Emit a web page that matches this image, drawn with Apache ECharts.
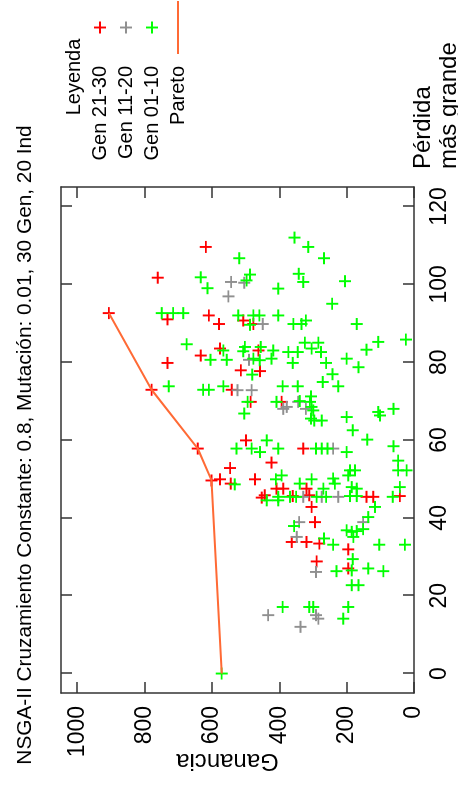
<!DOCTYPE html>
<html><head><meta charset="utf-8">
<script src="https://cdn.jsdelivr.net/npm/echarts@6/dist/echarts.min.js"></script>
<style>
html,body{margin:0;padding:0;width:458px;height:786px;overflow:hidden;background:#fff}
#chart{position:absolute;left:0;top:786px;width:786px;height:458px;transform-origin:0 0;transform:rotate(-90deg);background:#fff}
</style></head><body><div id="chart"></div>
<script>
const titleText = 'NSGA-II Cruzamiento Constante: 0.8, Mutación: 0.01, 30 Gen, 20 Ind';
const xName = 'Pérdida\nmás grande';
const yName = 'Ganancia';
const legendTitle = 'Leyenda';
const seriesNames = ['Gen 21-30', 'Gen 11-20', 'Gen 01-10', 'Pareto'];
const xTicks = [0, 20, 40, 60, 80, 100, 120];
const yTicks = [0, 200, 400, 600, 800, 1000];

// [Pérdida más grande, Ganancia]
const gen2130 = [
  [109.6,618],[101.7,761],[92.6,906],[91.0,732],[92.0,609],[89.8,579],[90.7,507],[89.8,477],
  [83.5,576],[81.7,633],[79.8,732],[77.9,514],[72.9,779],[72.9,541],[69.8,485],[59.9,499],
  [57.8,642],[83.0,462],[77.7,457],[69.8,393],[57.8,329],[54.2,423],[52.8,546],[49.6,601],
  [49.9,576],[48.8,544],[49.9,472],[47.5,408],[47.5,388],[47.5,319],[45.8,443],[45.2,452],
  [45.6,360],[45.8,311],[45.6,42],[45.4,141],[45.4,121],[42.8,304],[38.9,294],[33.8,363],
  [33.8,319],[33.4,281],[31.9,195],[28.8,289],[27.0,195]
];
const gen1120 = [
  [100.6,543],[100.4,504],[96.9,551],[89.8,449],[80.6,490],[72.8,524],[72.8,482],[68.0,388],
  [68.5,378],[69.8,344],[68.0,321],[57.8,240],[45.4,329],[45.4,274],[45.4,225],[38.9,151],
  [38.9,341],[35.1,348],[26.1,291],[15.0,433],[15.0,291],[14.1,284],[12.0,337]
];
const gen0110 = [
  [106.7,519],[101.8,633],[99.0,613],[102.5,487],[101.0,497],[92.6,749],[92.6,715],[92.6,685],
  [92.0,522],[84.6,675],[112.0,355],[109.6,314],[106.7,267],[102.7,342],[100.6,329],[98.9,403],
  [100.8,205],[95.0,243],[92.0,477],[92.0,459],[92.0,403],[89.8,358],[89.8,334],[90.7,321],
  [89.8,170],[85.0,324],[85.0,284],[85.2,106],[85.8,24],[83.2,141],[83.9,455],[89.6,487],
  [83.0,566],[83.9,502],[82.8,507],[80.6,604],[80.6,556],[76.8,480],[73.8,728],[72.9,626],
  [72.9,609],[73.8,566],[69.8,494],[66.8,504],[57.8,527],[57.8,482],[83.0,418],[82.6,373],
  [82.6,345],[83.5,304],[82.6,276],[80.9,477],[80.5,458],[80.9,423],[79.8,360],[79.8,261],
  [80.9,200],[78.7,165],[76.9,242],[74.9,271],[73.8,225],[73.8,390],[73.8,345],[69.8,408],
  [70.0,339],[71.2,306],[69.8,309],[68.5,304],[67.6,299],[65.5,306],[65.0,274],[65.0,296],
  [65.9,200],[62.5,182],[67.2,106],[66.3,101],[68.0,61],[60.1,139],[58.4,61],[54.7,47],
  [59.9,437],[56.9,457],[57.8,403],[57.8,291],[57.8,274],[57.8,257],[56.9,200],[48.6,532],
  [49.9,410],[50.9,393],[49.9,304],[48.8,339],[50.1,240],[48.8,235],[52.2,190],[52.2,175],
  [50.9,195],[47.9,185],[47.5,170],[52.2,47],[52.2,22],[47.9,42],[45.4,63],[47.5,269],
  [44.5,437],[44.5,403],[45.4,403],[45.4,368],[45.4,350],[45.4,289],[45.4,261],[45.6,190],
  [45.6,170],[42.8,116],[40.2,136],[37.9,356],[36.8,200],[36.4,185],[36.6,170],[37.1,151],
  [35.1,180],[34.7,267],[33.1,240],[33.1,103],[33.1,27],[29.4,182],[26.3,230],[26.5,185],
  [27.0,136],[26.3,91],[22.7,185],[22.7,165],[17.1,390],[17.1,311],[17.1,299],[17.1,195],
  [14.1,210],[0,571]
];
const pareto = [[0,571],[49.6,601],[57.8,642],[72.9,779],[92.6,906]];

const FONT = "'Liberation Sans', Arial, sans-serif";
const PLUS = 'path://M0,9.25H9.25V0H12.75V9.25H22V12.75H12.75V22H9.25V12.75H0Z';
const AX = '#333333';
const LINE_COLOR = '#ff6a35';

function scatter(name, data, color) {
  return {
    name, type: 'scatter', data, symbol: PLUS, symbolSize: 12,
    itemStyle: { color, opacity: 1 }, emphasis: { disabled: true },
    xAxisIndex: 0, yAxisIndex: 0
  };
}
function xAx(pos, main) {
  return {
    type: 'value', min: -5, max: 125, position: pos,
    axisLine: { show: true, onZero: false, lineStyle: { color: AX, width: 1.5 } },
    axisTick: { show: true, inside: true, length: 11, customValues: xTicks, lineStyle: { color: AX, width: 1.5 } },
    axisLabel: main ? { show: true, customValues: xTicks, margin: 14, fontSize: 23, color: '#000', fontFamily: FONT, formatter: v => String(v) } : { show: false },
    splitLine: { show: false },
    name: main ? xName : '', nameLocation: 'end', nameGap: 18, nameMoveOverlap: false,
    nameTextStyle: { fontSize: 24, lineHeight: 26, color: '#000', fontFamily: FONT, align: 'left', verticalAlign: 'top', padding: [-4, 0, 0, 0] }
  };
}
function yAx(pos, main) {
  return {
    type: 'value', min: 0, max: 1048, position: pos,
    axisLine: { show: true, onZero: false, lineStyle: { color: AX, width: 1.5 } },
    axisTick: { show: true, inside: true, length: 11, customValues: yTicks, lineStyle: { color: AX, width: 1.5 } },
    axisLabel: main ? { show: true, customValues: yTicks, margin: 13, fontSize: 23, color: '#000', fontFamily: FONT, formatter: v => String(v) } : { show: false },
    splitLine: { show: false },
    name: main ? yName : '', nameLocation: 'middle', nameRotate: 90, nameGap: 56, nameMoveOverlap: false,
    nameTextStyle: { fontSize: 24, color: '#000', fontFamily: FONT, padding: [0, 0, 0, 20] }
  };
}

const chart = echarts.init(document.getElementById('chart'), null, { renderer: 'canvas' });
chart.setOption({
  animation: false,
  backgroundColor: '#ffffff',
  title: {
    text: titleText, left: 341, top: 13, padding: 0, textAlign: 'center',
    textStyle: { fontSize: 20.8, fontWeight: 'normal', color: '#000', fontFamily: FONT, lineHeight: 24 }
  },
  grid: { left: 93, right: 187, top: 61, bottom: 44, containLabel: false, outerBoundsMode: 'none' },
  legend: {
    data: [
      { name: seriesNames[0] },
      { name: seriesNames[1] },
      { name: seriesNames[2] },
      { name: seriesNames[3], itemStyle: { opacity: 0 } }
    ],
    orient: 'vertical', align: 'right', right: 0, top: 90, padding: 0,
    itemWidth: 53, itemHeight: 12, itemGap: 6, selectedMode: false,
    textStyle: { fontSize: 20, lineHeight: 20, color: '#000', fontFamily: FONT, padding: [0, 7, 0, 0] }
  },
  graphic: [{
    type: 'text', x: 709, y: 74,
    style: { text: legendTitle, fontSize: 20, fontFamily: FONT, fill: '#000', align: 'center', verticalAlign: 'middle' }
  }],
  xAxis: [xAx('bottom', true), xAx('top', false)],
  yAxis: [yAx('left', true), yAx('right', false)],
  series: [
    scatter(seriesNames[0], gen2130, '#ff0000'),
    scatter(seriesNames[1], gen1120, '#909090'),
    scatter(seriesNames[2], gen0110, '#00ff00'),
    {
      name: seriesNames[3], type: 'line', data: pareto, symbol: 'none', showSymbol: false,
      lineStyle: { color: LINE_COLOR, width: 2 }, itemStyle: { color: LINE_COLOR },
      emphasis: { disabled: true }, xAxisIndex: 0, yAxisIndex: 0, z: 3
    }
  ]
});
</script></body></html>
